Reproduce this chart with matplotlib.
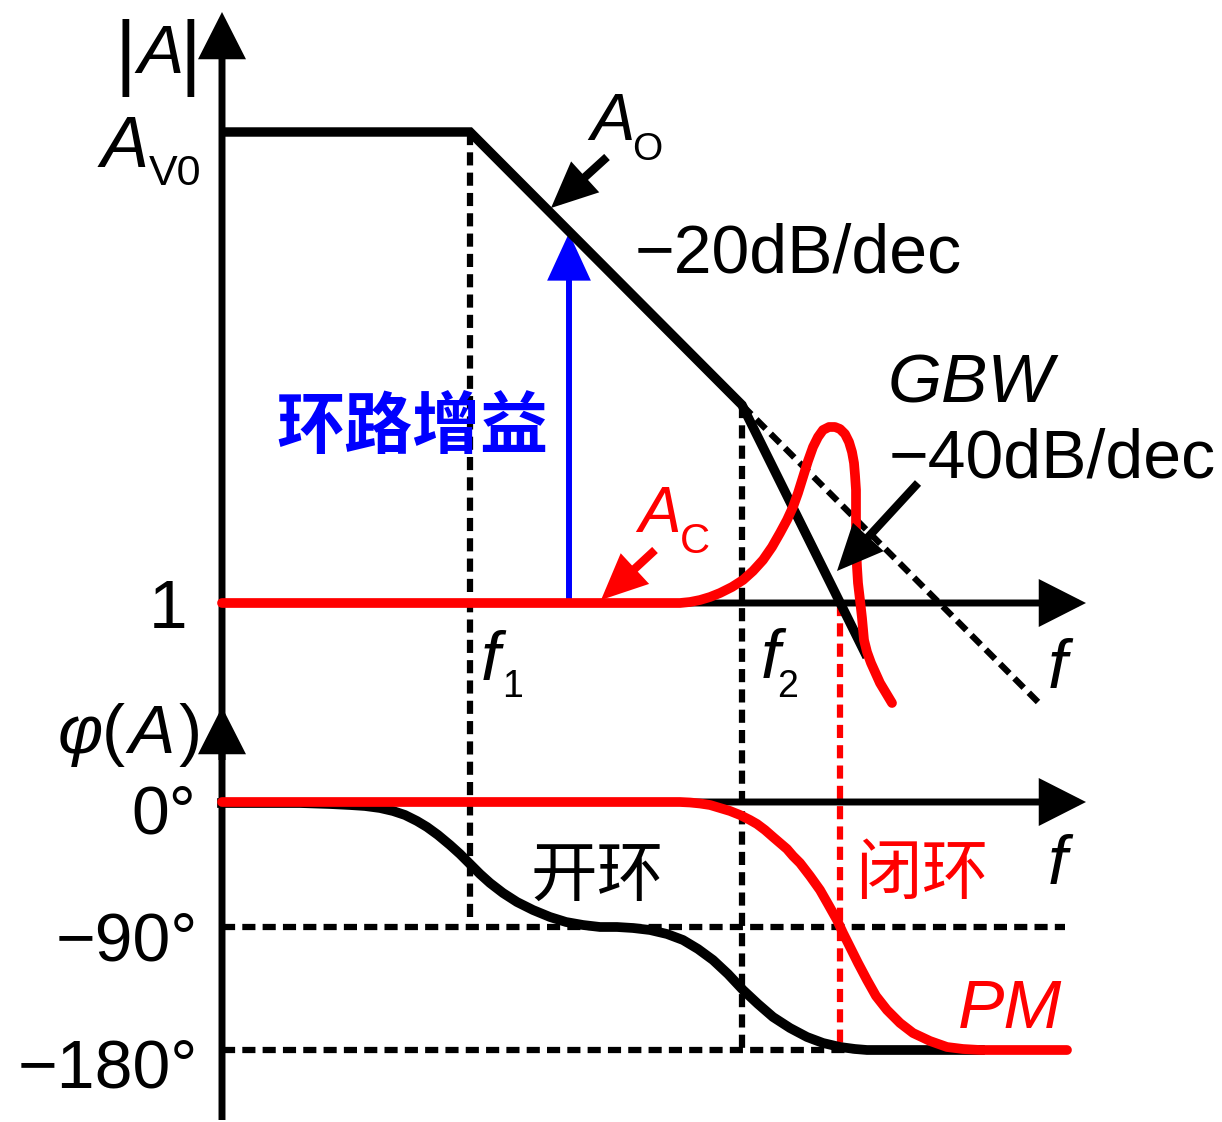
import matplotlib
matplotlib.use("Agg")
import matplotlib.pyplot as plt

plt.rcParams['font.family'] = ['Liberation Sans', 'DejaVu Sans']

# ---------------- data (schematic units) ----------------
# key frequencies (positions on the schematic frequency axis)
F1 = 470
F2 = 742
F_CROSS = 840
# magnitude levels
MAG_AV0 = 132
MAG_ONE = 603
# phase levels
PH_0 = 802
PH_90 = 927
PH_180 = 1050

# open-loop magnitude A_O (asymptotic)
ol_mag_x = [222, 470, 742, 867]
ol_mag_y = [132, 132, 405, 657]
# -20 dB/dec continuation (dotted)
ol_ext_x = [742, 1038]
ol_ext_y = [405, 702]

# closed-loop magnitude A_C
cl_mag_x = [222, 680, 690, 700, 710, 720, 732, 743, 753, 763, 772, 780, 787, 793,
            798, 803, 808, 813, 818, 823, 829, 835, 840, 845, 849, 852, 854, 855,
            856, 856, 856, 857, 858, 860, 862, 864, 867, 871, 880, 892]
cl_mag_y = [603, 603, 602, 600, 597, 593, 587, 580, 571, 560, 547, 533, 520, 507,
            493, 477, 461, 447, 437, 430, 427, 427, 429, 434, 442, 452, 463, 475,
            490, 517, 545, 567, 583, 600, 618, 640, 652, 663, 683, 703]

# open-loop phase
ol_ph_x = [222, 300, 330, 350, 365, 380, 393, 405, 417, 427, 438, 450, 460, 470,
           480, 490, 503, 517, 533, 550, 566, 583, 600, 617, 633, 650, 667, 683,
           698, 713, 728, 743, 758, 773, 790, 807, 823, 840, 855, 867, 980]
ol_ph_y = [803, 803, 804, 805, 806, 808, 811, 815, 821, 827, 835, 845, 854, 864,
           874, 883, 893, 902, 910, 917, 922, 925, 927, 927, 928, 930, 934, 940,
           949, 960, 974, 990, 1004, 1017, 1028, 1037, 1043, 1047, 1049, 1050, 1050]

# closed-loop phase
cl_ph_x = [222, 680, 690, 700, 710, 720, 730, 740, 750, 757, 765, 773, 780, 787,
           793, 800, 810, 820, 828, 837, 843, 850, 858, 867, 876, 887, 900, 913,
           930, 947, 963, 980, 1067]
cl_ph_y = [802, 802, 802.5, 803.5, 805, 808, 811, 815, 820, 824, 830, 837, 843, 849,
           856, 863, 876, 890, 904, 920, 933, 947, 963, 980, 996, 1010, 1023, 1033,
           1041, 1047, 1049, 1050, 1050]

# ---------------- figure ----------------
fig = plt.figure(figsize=(12.22, 11.22), dpi=100)
ax = fig.add_axes([0, 0, 1, 1])
ax.set_xlim(0, 1222)
ax.set_ylim(1122, 0)
ax.axis('off')

BLACK = 'black'
RED = '#ff0000'
BLUE = '#0000ff'

dash = (0, (2.1, 1.15))
dlw = 4.5

# dashed guide lines
ax.plot([F1, F1], [MAG_AV0, PH_90], color=BLACK, lw=dlw, ls=dash, zorder=1)
ax.plot([F2, F2], [405, PH_180], color=BLACK, lw=dlw, ls=dash, zorder=1)
ax.plot([222, 1065], [PH_90, PH_90], color=BLACK, lw=dlw, ls=dash, zorder=1)
ax.plot([222, 1000], [PH_180, PH_180], color=BLACK, lw=dlw, ls=dash, zorder=1)
ax.plot([F_CROSS, F_CROSS], [MAG_ONE, PH_180], color=RED, lw=dlw, ls=dash, zorder=1)
ax.plot(ol_ext_x, ol_ext_y, color=BLACK, lw=dlw, ls=dash, zorder=1)

# axes with arrows
axis_lw = 5.0
ms = 20
head = '-|>,head_length=1.3,head_width=0.66'
def arrow(p0, p1, color=BLACK, lw=axis_lw, style=head, z=2):
    ax.annotate('', xy=p1, xytext=p0,
                arrowprops=dict(arrowstyle=style, color=color, lw=lw,
                                shrinkA=0, shrinkB=0, mutation_scale=ms,
                                joinstyle='miter', capstyle='butt'),
                zorder=z)

arrow((222, 1120), (222, 12))
arrow((222, 760), (222, 707))
arrow((219, MAG_ONE), (1086, MAG_ONE))
arrow((219, PH_0), (1086, PH_0))

# curves
ax.plot(ol_mag_x, ol_mag_y, color=BLACK, lw=6.8, solid_joinstyle='miter',
        solid_capstyle='butt', zorder=3)
ax.plot(ol_ph_x, ol_ph_y, color=BLACK, lw=7, solid_joinstyle='round', zorder=3)
ax.plot(cl_mag_x, cl_mag_y, color=RED, lw=7, solid_joinstyle='round',
        solid_capstyle='round', zorder=4)
ax.plot(cl_ph_x, cl_ph_y, color=RED, lw=7, solid_joinstyle='round',
        solid_capstyle='round', zorder=4)

# loop-gain arrow (blue)
arrow((569, MAG_ONE), (569, 233), color=BLUE, lw=4.3,
      style='-|>,head_length=1.35,head_width=0.62', z=2.5)
# pointer arrows
ptr = '-|>,head_length=1.15,head_width=0.52'
arrow((607, 157), (551, 208), color=BLACK, lw=6, style=ptr, z=5)
arrow((918, 483), (837, 571), color=BLACK, lw=6, style=ptr, z=5)
arrow((655, 550), (601, 600), color=RED, lw=6, style=ptr, z=5)

# ---------------- text ----------------
def t(x, y, s, size, color=BLACK, style='normal', ha='left', va='baseline', **kw):
    ax.text(x, y, s, fontsize=size, color=color, style=style, ha=ha, va=va, **kw)

# |A|
t(125, 80, '|', 60, ha='center')
t(190, 80, '|', 60, ha='center')
t(137, 73, 'A', 50, style='italic')
# A_V0
t(101, 167, 'A', 52, style='italic')
t(149, 185, 'V0', 31)
# A_O
t(590, 140, 'A', 48, style='italic')
t(632, 160, 'O', 28)
# A_C
t(638, 532, 'A', 46, color=RED, style='italic')
t(680, 553, 'C', 30, color=RED)
# slopes
t(635, 272, '\u221220dB/dec', 49)
t(888, 402, 'GBW', 50, style='italic')
t(889, 477, '\u221240dB/dec', 49)
# magnitude tick "1"
t(168, 628, '1', 50, ha='center')
# f labels
t(481, 680, 'f', 50, style='italic')
t(502, 697, '1', 27)
t(761, 678, 'f', 50, style='italic')
t(777, 697, '2', 27)
t(1048, 688, 'f', 50, style='italic')
t(1048, 884, 'f', 50, style='italic')
# phase axis label and ticks
t(58, 753, '\u03c6', 50, style='italic')
t(102, 753, '(', 50)
t(128, 753, 'A', 50, style='italic')
t(179, 753, ')', 50)
t(196, 833, '0\u00b0', 49, ha='right')
t(198, 960, '\u221290\u00b0', 49, ha='right')
t(198, 1088, '\u2212180\u00b0', 49, ha='right')
t(958, 1028, 'PM', 50, color=RED, style='italic')

# Chinese labels
cjk = ['Noto Sans CJK SC', 'DejaVu Sans']
ax.text(276, 428, '环路增益', fontsize=49, color=BLUE, family=cjk,
        fontweight='bold', ha='left', va='center')
ax.text(531, 878, '开环', fontsize=48, color=BLACK, family=cjk,
        ha='left', va='center')
ax.text(855, 875, '闭环', fontsize=48, color=RED, family=cjk,
        ha='left', va='center')

fig.savefig('out.png', dpi=100)
